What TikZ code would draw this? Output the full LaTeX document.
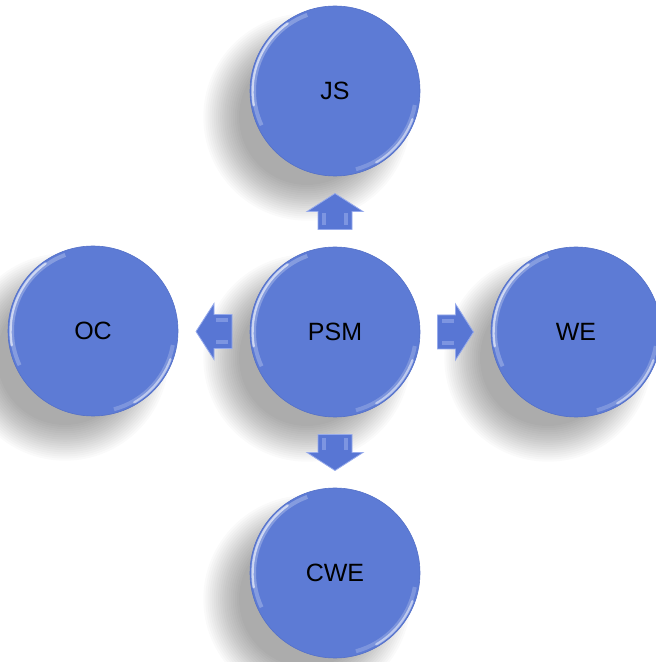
\documentclass[tikz,border=0pt]{standalone}
\usepackage{fontspec}
\setmainfont{Liberation Sans}
\usetikzlibrary{calc}
\definecolor{ballblue}{RGB}{93,123,213}
\definecolor{ballrim}{RGB}{84,112,200}
\definecolor{arrowblue}{RGB}{88,118,212}
\definecolor{arrowlight}{RGB}{150,170,235}
\tikzset{
  ball/.style={circle, minimum size=170pt, inner sep=0pt, fill=ballblue, draw=ballrim, line width=0.6pt,
    font=\fontsize{25}{30}\selectfont, text=black},
  blockarrow/.style={fill=arrowblue, draw=arrowlight, line width=0.8pt, line join=miter},
  shine/.style={white, line cap=round, line width=2.4pt, opacity=0.6},
}
\newcommand\myarrow[2]{%
  \begin{scope}[shift={(#1)}, rotate=#2]
    \path[blockarrow] (-18,-17) -- (-18,17) -- (0,17) -- (0,28) -- (18,0) -- (0,-28) -- (0,-17) -- cycle;
    \fill[arrowlight, opacity=0.6] (-14,-13) -- (-2,-13) -- (-2,-9) -- (-14,-9) -- cycle;
    \fill[arrowlight, opacity=0.6] (-14,13) -- (-2,13) -- (-2,9) -- (-14,9) -- cycle;
  \end{scope}}
\begin{document}
\begin{tikzpicture}[x=1pt, y=1pt]
  \useasboundingbox[fill=white] (0,0) rectangle (656,662);
  % centres
  \coordinate (cPSM) at (335,330);
  \coordinate (cJS)  at (335,571);
  \coordinate (cOC)  at (93,331);
  \coordinate (cWE)  at (576,330);
  \coordinate (cCWE) at (335,89);
  % soft shadows, cast towards the lower left
  \foreach \n in {cPSM,cJS,cOC,cWE,cCWE}{
    \foreach \k in {0,...,17}{
      \fill[black, opacity=0.02] ($(\n)+(-28,-26)$) circle[radius=68+2.1*\k];
    }
  }
  % balls
  \node[ball] (PSM) at (cPSM) {PSM};
  \node[ball] (JS)  at (cJS)  {JS};
  \node[ball] (OC)  at (cOC)  {OC};
  \node[ball] (WE)  at (cWE)  {WE};
  \node[ball] (CWE) at (cCWE) {CWE};
  % glossy highlights on the rims
  \foreach \n in {PSM,JS,OC,WE,CWE}{
    \draw[white, line width=4pt, opacity=0.25] ($(\n.center)+(110:81)$) arc[start angle=110, end angle=205, radius=81];
    \draw[shine] ($(\n.center)+(125:82.5)$) arc[start angle=125, end angle=190, radius=82.5];
    \draw[white, line width=4pt, opacity=0.2] ($(\n.center)+(-75:81)$) arc[start angle=-75, end angle=-10, radius=81];
    \draw[shine, opacity=0.5] ($(\n.center)+(-60:82.5)$) arc[start angle=-60, end angle=-20, radius=82.5];
  }
  % block arrows between the balls
  \coordinate (aUp)    at ($(PSM.north)!0.5!(JS.south)$);
  \coordinate (aLeft)  at ($(PSM.west)!0.5!(OC.east)$);
  \coordinate (aRight) at ($(PSM.east)!0.5!(WE.west)$);
  \coordinate (aDown)  at ($(PSM.south)!0.5!(CWE.north)$);
  \myarrow{aUp}{90}
  \myarrow{aLeft}{180}
  \myarrow{aRight}{0}
  \myarrow{aDown}{-90}
\end{tikzpicture}
\end{document}
